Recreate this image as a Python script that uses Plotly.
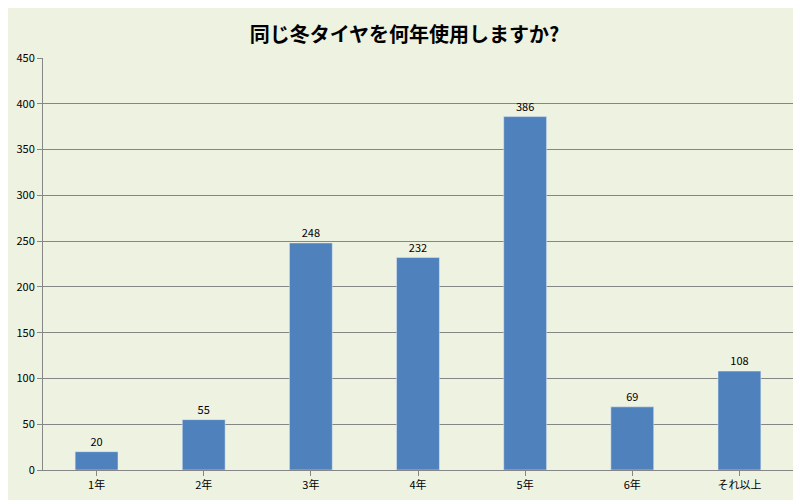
import plotly.graph_objects as go

categories = ["1年", "2年", "3年", "4年", "5年", "6年", "それ以上"]
values = [20, 55, 248, 232, 386, 69, 108]
title = "同じ冬タイヤを何年使用しますか?"

fig = go.Figure(go.Bar(
    x=categories, y=values, text=values, textposition="outside",
    marker_color="#4F81BD", width=0.4,
    textfont=dict(size=11, color="#000000"), cliponaxis=False,
))
fig.update_layout(
    width=793, height=492,
    paper_bgcolor="#EEF2E1", plot_bgcolor="#EEF2E1",
    margin=dict(l=34, r=8, t=50, b=27),
    title=dict(text="<b>" + title + "</b>", x=0.5, xanchor="center", y=0.96,
               font=dict(size=20, color="#000000", family="Noto Sans CJK JP")),
    font=dict(family="Noto Sans CJK JP", size=11, color="#000000"),
    showlegend=False,
    xaxis=dict(showline=True, linecolor="#868686", ticks="outside", tickcolor="#868686",
               tickfont=dict(size=11)),
    yaxis=dict(range=[0, 450], dtick=50, showgrid=True, gridcolor="#868686", gridwidth=1,
               showline=True, linecolor="#868686", ticks="outside", tickcolor="#868686",
               tickfont=dict(size=11), zeroline=False),
)
fig.write_html("out.html")
